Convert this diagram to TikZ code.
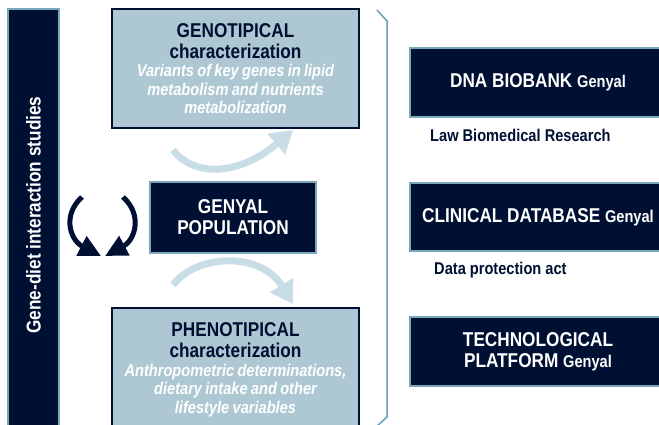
\documentclass[tikz,border=0pt]{standalone}
\usepackage{fontspec}
\setmainfont{Liberation Sans}[FakeStretch=0.86]
\usetikzlibrary{arrows.meta}

\definecolor{navy}{RGB}{0,16,51}
\definecolor{paleblue}{RGB}{173,200,211}
\definecolor{edgeblue}{RGB}{122,168,186}
\definecolor{mist}{RGB}{200,221,229}
\definecolor{bracketblue}{RGB}{100,160,182}

\newcommand{\headfont}{\fontsize{20}{21}\selectfont\bfseries}
\newcommand{\notefont}{\fontsize{17}{18.5}\selectfont\bfseries\itshape}
\newcommand{\tagfont}{\fontsize{17}{18}\selectfont\bfseries}
\newcommand{\genyalfont}{\fontsize{17}{18}\selectfont\bfseries}

\begin{document}
\begin{tikzpicture}[x=1pt, y=-1pt,
    lightbox/.style={draw=navy, fill=paleblue, line width=1.5pt, text=navy},
    darkbox/.style={draw=edgeblue, fill=navy, line width=1.5pt, text=white},
    softarrow/.style={draw=mist, line width=7pt, -{Triangle[length=22pt,width=26pt]}},
    looparrow/.style={draw=navy, line width=5pt, -{Triangle[length=22pt,width=21pt]}},
    tag/.style={text=navy, font=\tagfont, anchor=west, inner sep=0pt}]
    \useasboundingbox (0,0) rectangle (659,425);

    % Side bar
    \node[darkbox, rotate=90, minimum width=422pt, minimum height=51pt, font=\headfont]
        (side) at (33.5,220) {\hspace*{10pt}Gene-diet interaction studies};

    % Central column
    \node[lightbox, minimum width=247pt, minimum height=119pt, text width=240pt, align=center]
        (geno) at (235.5,68.5)
        {{\headfont GENOTIPICAL\\characterization\par}
         {\notefont\color{white}Variants of key genes in lipid\\metabolism and nutrients\\metabolization\par}};

    \node[darkbox, minimum width=166pt, minimum height=71pt, align=center, font=\headfont]
        (genyal) at (233,217.5) {GENYAL\\POPULATION};

    \node[lightbox, minimum width=247pt, minimum height=124pt, text width=240pt, align=center]
        (pheno) at (235.5,370)
        {{\headfont PHENOTIPICAL\\characterization\par}
         {\notefont\color{white}Anthropometric determinations,\\dietary intake and other\\lifestyle variables\par}};

    % Curved arrows
    \coordinate (upstart) at (173,150);
    \coordinate (upend) at (293,130);
    \draw[softarrow] (upstart) .. controls (195,178) and (240,175) .. (upend);
    \coordinate (downstart) at (173,285);
    \coordinate (downend) at (293,304);
    \draw[softarrow] (downstart) .. controls (195,255) and (260,250) .. (downend);

    \coordinate (loopL) at (82,197);
    \coordinate (loopR) at (123,197);
    \coordinate (loopLend) at (101,256);
    \coordinate (loopRend) at (105,256);
    \draw[looparrow] (loopL) .. controls (62,215) and (70,240) .. (loopLend);
    \draw[looparrow] (loopR) .. controls (143,215) and (135,240) .. (loopRend);

    % Bracket
    \draw[bracketblue, line width=1.5pt] (377,10) -- (387,21) -- (387,417) -- (376,427);

    % Right column
    \node[darkbox, minimum width=256pt, minimum height=69pt, font=\headfont]
        (biobank) at (538,82.5) {DNA BIOBANK {\genyalfont Genyal}};
    \node[tag] (lawlbl) at (430,135) {Law Biomedical Research};

    \node[darkbox, minimum width=256pt, minimum height=68pt, font=\headfont]
        (clinical) at (538,217) {CLINICAL DATABASE {\genyalfont Genyal}};
    \node[tag] (datalbl) at (434,270) {Data protection act};

    \node[darkbox, minimum width=256pt, minimum height=69pt, align=center, font=\headfont]
        (techplat) at (538,351.5) {TECHNOLOGICAL\\PLATFORM {\genyalfont Genyal}};
\end{tikzpicture}
\end{document}
